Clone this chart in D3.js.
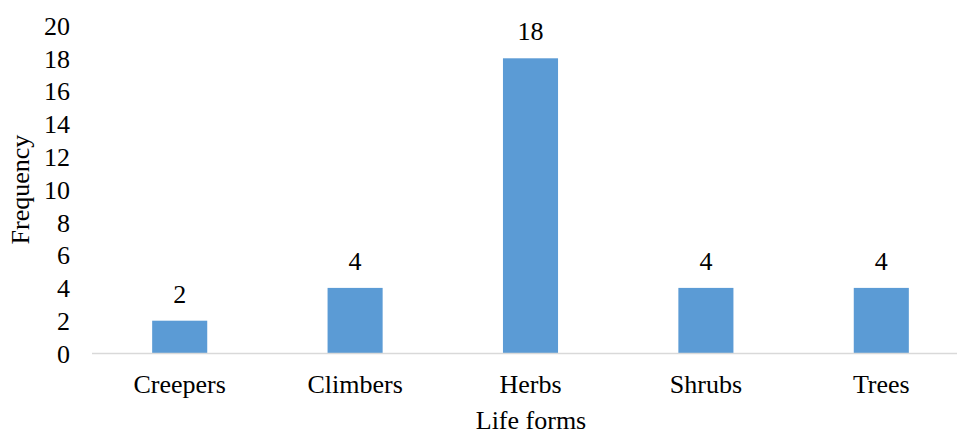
<!DOCTYPE html>
<html>
<head>
<meta charset="utf-8">
<script src="https://cdn.jsdelivr.net/npm/d3@7"></script>
<style>
  html, body { margin: 0; padding: 0; background: #fff; }
  svg { display: block; }
  svg text { font-family: 'Liberation Serif', 'Times New Roman', Tinos, 'DejaVu Serif', serif !important; fill: #000; }
</style>
</head>
<body>
<svg id="chart" width="957" height="434"></svg>
<script>
// Life-form frequencies
const categories = ["Creepers", "Climbers", "Herbs", "Shrubs", "Trees"];
const frequency = [2, 4, 18, 4, 4];
const yTicks = [0, 2, 4, 6, 8, 10, 12, 14, 16, 18, 20];

const svg = d3.select("#chart");
const fontSize = 26;

const x = d3.scaleBand()
  .domain(categories)
  .range([92, 969])
  .paddingInner(0.686)
  .paddingOuter(0.343);

const y = d3.scaleLinear()
  .domain([0, 20])
  .range([353.5, 25.5]);

// Y tick labels (no axis line, no gridlines)
const yAxis = d3.axisLeft(y).tickValues(yTicks).tickSize(0).tickPadding(0);
const gy = svg.append("g").attr("transform", "translate(70,0)").call(yAxis);
gy.attr("font-family", null);
gy.select(".domain").remove();
gy.selectAll("text")
  .attr("font-size", fontSize)
  .attr("fill", "#000")
  .attr("dy", "0.34em");

// Bars
svg.append("g").selectAll("rect")
  .data(categories)
  .join("rect")
  .attr("x", d => x(d))
  .attr("width", x.bandwidth())
  .attr("y", (d, i) => y(frequency[i]))
  .attr("height", (d, i) => y(0) - y(frequency[i]))
  .attr("fill", "#5B9BD5");

// Category axis
const xAxis = d3.axisBottom(x).tickSize(0).tickPadding(0);
const gx = svg.append("g").attr("transform", `translate(0,${y(0)})`).call(xAxis);
gx.attr("font-family", null);
gx.select(".domain").attr("stroke", "#D9D9D9").attr("stroke-width", 1.5)
  .attr("d", `M92,0H957`);
gx.selectAll("text")
  .attr("font-size", fontSize)
  .attr("fill", "#000")
  .attr("dy", null)
  .attr("y", 39);

// Value labels
svg.append("g").selectAll("text")
  .data(categories)
  .join("text")
  .attr("x", d => x(d) + x.bandwidth() / 2)
  .attr("y", (d, i) => y(frequency[i]) - 18)
  .attr("text-anchor", "middle")
  .attr("font-size", fontSize)
  .text((d, i) => frequency[i]);

// Axis titles
svg.append("text")
  .attr("x", 531)
  .attr("y", 429)
  .attr("text-anchor", "middle")
  .attr("font-size", fontSize)
  .text("Life forms");

svg.append("text")
  .attr("transform", `translate(29,${(y(0) + y(20)) / 2}) rotate(-90)`)
  .attr("text-anchor", "middle")
  .attr("font-size", fontSize)
  .text("Frequency");
</script>
</body>
</html>
